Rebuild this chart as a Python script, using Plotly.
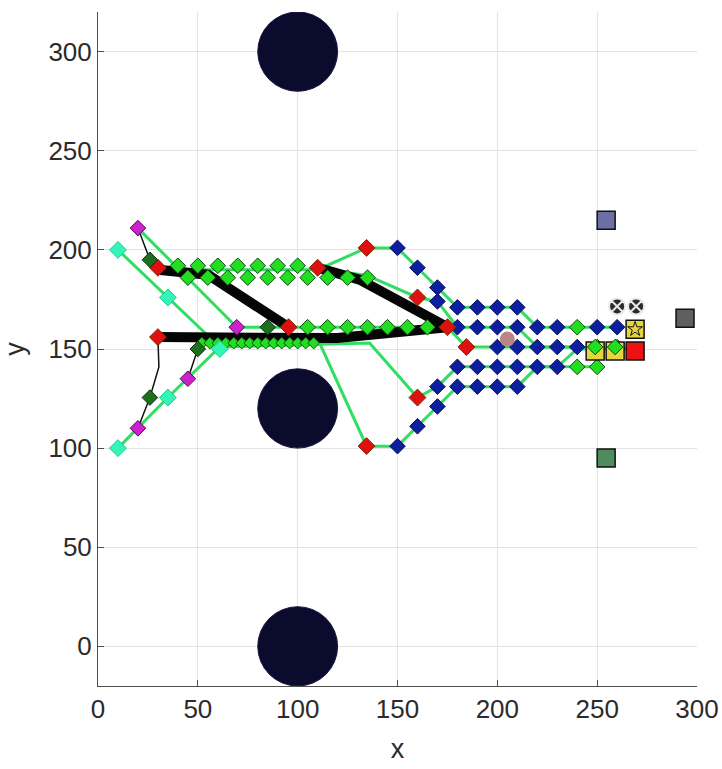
import plotly.graph_objects as go

# ---- obstacles: centre and radius ----
obs_x = [100, 100, 100]
obs_y = [300, 120, 0]
obs_r = [20, 20, 20]

# ---- green route polylines ----
route_upper_x = [30, 110, 134.5, 150, 160, 170, 180, 190, 200, 210, 220, 230, 240, 250, 260]
route_upper_y = [190, 190, 201, 201, 191, 181, 171, 171, 171, 171, 161, 161, 161, 161, 161]
route_upper_in_x = [110, 135, 160, 170, 180, 190, 200, 210, 220, 230, 240, 250]
route_upper_in_y = [191, 187, 176, 174, 161, 161, 161, 161, 151, 151, 151, 150]
route_mid_x = [20, 69.5, 95.5, 175, 184.5, 200, 210, 220, 230, 240, 250, 260, 269]
route_mid_y = [211, 161, 161, 161, 151, 151, 151, 151, 151, 151, 150, 150, 150]
route_lower_in_x = [10, 35, 61, 136, 160, 170, 180, 190, 200, 210, 220, 230, 240, 250]
route_lower_in_y = [200, 176, 151, 153, 125.5, 131, 141, 141, 141, 141, 141, 141, 141, 141]
route_lower_x = [10, 35, 61, 111, 134.5, 150, 160, 170, 180, 190, 200, 210, 220, 230, 240, 250]
route_lower_y = [100, 125.5, 151, 153, 101, 101, 111, 121, 131, 131, 131, 131, 141, 141, 150, 150]

# ---- heavy black tracks ----
track1_x = [30, 55, 95.5]
track1_y = [190, 187.5, 161]
track2_x = [30, 120, 175]
track2_y = [156, 155.5, 161]
track3_x = [110, 131, 175]
track3_y = [191, 185, 161]

# ---- thin black tracks ----
thin1_x = [20, 26, 30]
thin1_y = [211, 195, 191]
thin2_x = [20, 26, 30.5, 30]
thin2_y = [110, 125.5, 141, 156]
thin3_x = [45, 50, 53]
thin3_y = [135, 150, 155]

# ---- waypoint markers ----
green_x = [40, 50, 60, 70, 80, 90, 100,
           45, 55, 65, 75, 85, 95, 105, 115, 125, 135,
           105, 115, 125, 135, 145, 155, 165,
           240, 250, 260, 240, 250]
green_y = [192, 192, 192, 192, 192, 192, 192,
           186, 186, 186, 186, 186, 186, 186, 186, 186, 186,
           161, 161, 161, 161, 161, 161, 161,
           161, 151, 151, 141, 141]
band_x = [52, 56, 60, 64, 68, 72, 76, 80, 84, 88, 92, 96, 100, 104, 108]
band_y = [153, 153, 153, 153, 153, 153, 153, 153, 153, 153, 153, 153, 153, 153, 153]
blue_x = [150, 160, 170, 170, 180, 190, 200, 210,
          180, 190, 200, 210, 220, 230, 250, 260,
          200, 210, 220, 230, 240,
          170, 180, 190, 200, 210, 220, 230,
          180, 190, 200, 210,
          150, 160, 170]
blue_y = [201, 191, 181, 174, 171, 171, 171, 171,
          161, 161, 161, 161, 161, 161, 161, 161,
          151, 151, 151, 151, 151,
          131, 141, 141, 141, 141, 141, 141,
          131, 131, 131, 131,
          101, 111, 121]
red_x = [30, 30, 95.5, 110, 134.5, 160, 175, 184.5, 160, 134.5]
red_y = [191, 156, 161, 191, 201, 176, 161, 151, 125.5, 101]
magenta_x = [20, 69.5, 20, 45]
magenta_y = [211, 161, 110, 135]
darkgreen_x = [26, 26, 50, 85]
darkgreen_y = [195, 125.5, 150, 161]
start_x = [10, 35, 61, 10, 35]
start_y = [200, 176, 150, 100, 125.5]
centre_x = [205]
centre_y = [155]

# ---- goal / agent squares ----
square_x = [254.5, 254.5, 294, 269, 269, 249, 259]
square_y = [215, 95, 165.5, 149, 160, 149, 149]
square_col = ["#6b6fa6", "#4f8b5f", "#5f5f5f", "#ee1111", "#e6d53c", "#e6d53c", "#e6d53c"]
cover_x = [249, 259]
cover_y = [151, 151]
star_x = [269]
star_y = [160]
reel_x = [260, 269.5]
reel_y = [171.5, 171.5]

fig = go.Figure()

for cx, cy, r in zip(obs_x, obs_y, obs_r):
    fig.add_shape(type="circle", xref="x", yref="y",
                  x0=cx - r, x1=cx + r, y0=cy - r, y1=cy + r,
                  fillcolor="#0b0b2e", line=dict(color="#1a1440", width=1),
                  layer="above")

line_green = dict(color="#30de62", width=3)
for xs, ys in [(route_upper_x, route_upper_y), (route_upper_in_x, route_upper_in_y),
               (route_mid_x, route_mid_y), (route_lower_in_x, route_lower_in_y),
               (route_lower_x, route_lower_y)]:
    fig.add_trace(go.Scatter(x=xs, y=ys, mode="lines", line=line_green, hoverinfo="skip"))

for xs, ys in [(track1_x, track1_y), (track2_x, track2_y), (track3_x, track3_y)]:
    fig.add_trace(go.Scatter(x=xs, y=ys, mode="lines",
                             line=dict(color="#050505", width=10), hoverinfo="skip"))

for xs, ys in [(thin1_x, thin1_y), (thin2_x, thin2_y), (thin3_x, thin3_y)]:
    fig.add_trace(go.Scatter(x=xs, y=ys, mode="lines",
                             line=dict(color="#111111", width=1.5), hoverinfo="skip"))


def diamonds(xs, ys, fill, edge, size):
    fig.add_trace(go.Scatter(x=xs, y=ys, mode="markers", hoverinfo="skip",
                             marker=dict(symbol="diamond", size=size, color=fill,
                                         line=dict(color=edge, width=1))))


diamonds(band_x, band_y, "#22dd22", "#0b5a0b", 9)
diamonds(green_x, green_y, "#22dd22", "#0b4d0b", 12)
diamonds(blue_x, blue_y, "#0c1f9e", "#08125e", 12)
diamonds(red_x, red_y, "#e01010", "#7a3000", 13)
diamonds(magenta_x, magenta_y, "#cc22cc", "#5a005a", 12)
diamonds(darkgreen_x, darkgreen_y, "#1d6e1d", "#0b330b", 12)
diamonds(start_x, start_y, "#33f5b8", "#1fc98f", 13)

fig.add_trace(go.Scatter(x=centre_x, y=centre_y, mode="markers", hoverinfo="skip",
                         marker=dict(symbol="circle", size=15, color="#b98585")))

fig.add_trace(go.Scatter(x=square_x, y=square_y, mode="markers", hoverinfo="skip",
                         marker=dict(symbol="square", size=18, color=square_col,
                                     line=dict(color="#111111", width=1.5))))
diamonds(cover_x, cover_y, "#22dd22", "#0b4d0b", 12)
fig.add_trace(go.Scatter(x=star_x, y=star_y, mode="markers", hoverinfo="skip",
                         marker=dict(symbol="star-open", size=11, color="#111111",
                                     line=dict(width=1))))
fig.add_trace(go.Scatter(x=reel_x, y=reel_y, mode="markers", hoverinfo="skip",
                         marker=dict(symbol="circle-x", size=16, color="#2a2a2a",
                                     line=dict(color="#e8e8e8", width=2))))

axis_font = dict(family="Liberation Sans, Arial, sans-serif", size=26, color="#2b2b2b")
fig.update_layout(
    width=722, height=769,
    margin=dict(l=98, r=25, t=12, b=83),
    paper_bgcolor="white", plot_bgcolor="white",
    showlegend=False,
    font=axis_font,
)
fig.update_xaxes(range=[0, 300], tickvals=[0, 50, 100, 150, 200, 250, 300],
                 automargin=False,
                 showgrid=True, gridcolor="#e3e3e3", gridwidth=1,
                 zeroline=False, showline=True, linecolor="#4d4d4d", linewidth=1,
                 ticks="inside", ticklen=6, tickcolor="#4d4d4d",
                 title=dict(text="x", font=dict(size=27)),
                 tickfont=axis_font)
fig.update_yaxes(range=[-20, 320], tickvals=[0, 50, 100, 150, 200, 250, 300],
                 automargin=False,
                 showgrid=True, gridcolor="#e3e3e3", gridwidth=1,
                 zeroline=False, showline=True, linecolor="#4d4d4d", linewidth=1,
                 ticks="inside", ticklen=6, tickcolor="#4d4d4d",
                 title=dict(text="y", font=dict(size=27)),
                 tickfont=axis_font)

fig.write_html("out.html")
